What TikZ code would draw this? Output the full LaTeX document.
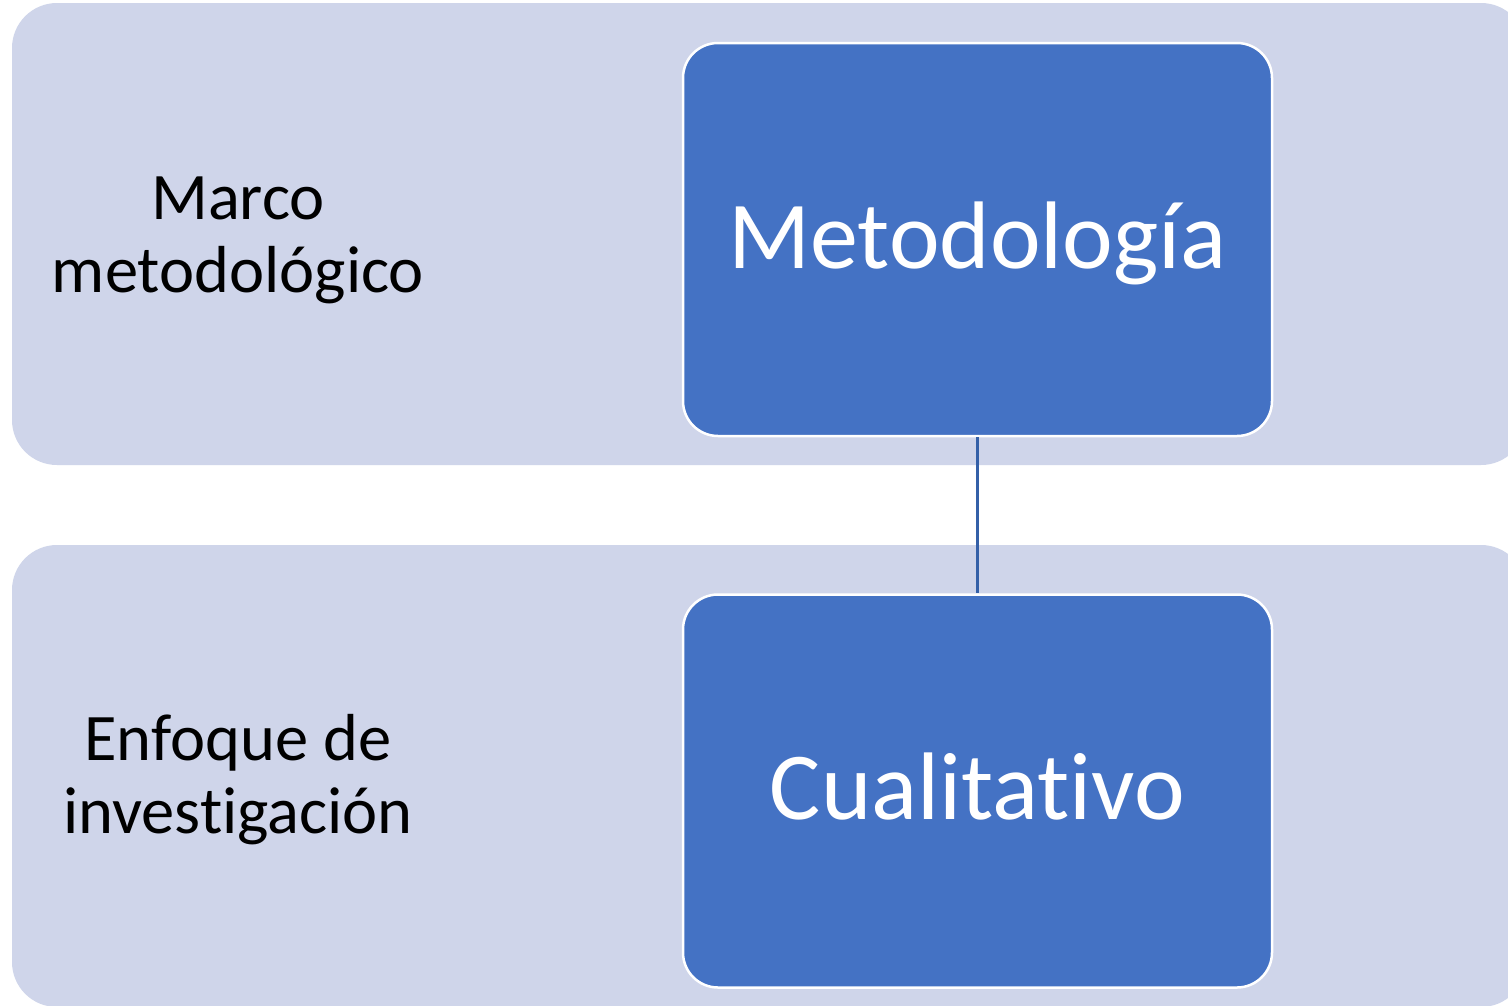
\documentclass[tikz,border=0pt]{standalone}
\usepackage{fontspec}
\setmainfont[Ligatures={NoCommon}]{Carlito}
\definecolor{bandcol}{HTML}{CFD5EA}
\definecolor{boxcol}{HTML}{4472C4}
\definecolor{linecol}{HTML}{3460A8}
\tikzset{
  band/.style={fill=bandcol, draw=none, rounded corners=45pt},
  bigbox/.style={rectangle, fill=boxcol, draw=white, line width=2.5pt, rounded corners=35pt,
    minimum width=589pt, minimum height=393pt, inner sep=0pt, text=white,
    text height=57pt, text depth=0pt,
    font=\fontsize{96}{110}\selectfont},
  label/.style={align=center, text=black, font=\fontsize{66.5}{73}\selectfont},
  conn/.style={draw=linecol, line width=2.5pt}
}
\begin{document}
\begin{tikzpicture}[x=1pt,y=-1pt]
\clip (0,0) rectangle (1508,1005);
\fill[white] (0,0) rectangle (1508,1005);
\path[band] (12,3) rectangle (1526,465);
\path[band] (12,545) rectangle (1526,1007);
\node[bigbox] (met) at (977.5,239.5) {Metodología};
\node[bigbox] (cua) at (977.5,791) {Cualitativo};
\node[label] (l1) at (238,240) {Marco\\metodológico};
\node[label] (l2) at (238,780) {Enfoque de\\investigación};
\draw[conn] (met.south) -- (cua.north);
\end{tikzpicture}
\end{document}
